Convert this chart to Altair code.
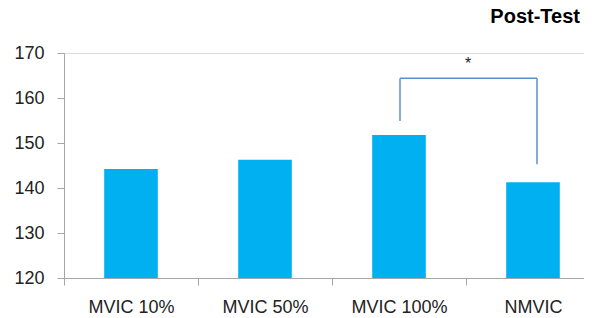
import altair as alt
import pandas as pd

categories = ["MVIC 10%", "MVIC 50%", "MVIC 100%", "NMVIC"]
values = [144.2, 146.3, 151.8, 141.3]

# significance bracket (between MVIC 100% and NMVIC)
bracket_left_cat = "MVIC 100%"
bracket_right_cat = "NMVIC"
bracket_top = 164.4
bracket_left_bottom = 154.9
bracket_right_bottom = 145.3
star_y = 167.6
star_text = "*"
title_text = "Post-Test"

FONT = "Liberation Sans"
BAR_COLOR = "#00B0F0"
BRACKET_COLOR = "#5B8FD0"
AXIS_COLOR = "#A6A6A6"
TEXT_COLOR = "#222222"

bars_df = pd.DataFrame({"cat": categories, "val": values})
left_df = pd.DataFrame({"cat": [bracket_left_cat], "y": [bracket_left_bottom], "y2": [bracket_top]})
right_df = pd.DataFrame({"cat": [bracket_right_cat], "y": [bracket_right_bottom], "y2": [bracket_top]})
horiz_df = pd.DataFrame({"cat": [bracket_left_cat], "cat2": [bracket_right_cat], "y": [bracket_top]})
star_df = pd.DataFrame({"cat": [bracket_left_cat], "y": [star_y], "t": [star_text]})

# the x axis continues slightly past the right edge of the picture, as in the reference
xscale = alt.Scale(domain=categories, range=[0, 536], paddingInner=0, paddingOuter=0)
yscale = alt.Scale(domain=[120, 170], nice=False, zero=False)

xaxis = alt.Axis(
    title=None, labelAngle=0, labelFont=FONT, labelFontSize=18, labelColor=TEXT_COLOR,
    domainColor=AXIS_COLOR, tickColor=AXIS_COLOR, tickSize=7, tickBand="extent",
    labelPadding=13, grid=False,
)
yaxis = alt.Axis(
    title=None, values=[120, 130, 140, 150, 160, 170], labelFont=FONT, labelFontSize=18,
    labelColor=TEXT_COLOR, domainColor=AXIS_COLOR, tickColor=AXIS_COLOR, tickSize=7,
    labelPadding=13, grid=False,
)

X = alt.X("cat:N", sort=categories, scale=xscale, axis=xaxis)

bars = alt.Chart(bars_df).mark_bar(color=BAR_COLOR, width=alt.RelativeBandSize(0.4), clip=True).encode(
    x=X,
    y=alt.Y("val:Q", scale=yscale, axis=yaxis),
)

left = alt.Chart(left_df).mark_rule(color=BRACKET_COLOR, strokeWidth=1.5, xOffset=1).encode(
    x=X, y=alt.Y("y:Q", scale=yscale), y2="y2:Q",
)
right = alt.Chart(right_df).mark_rule(color=BRACKET_COLOR, strokeWidth=1.5, xOffset=4).encode(
    x=X, y=alt.Y("y:Q", scale=yscale), y2="y2:Q",
)
horiz = alt.Chart(horiz_df).mark_rule(color=BRACKET_COLOR, strokeWidth=1.5, xOffset=1, x2Offset=4).encode(
    x=X, x2="cat2:N", y=alt.Y("y:Q", scale=yscale),
)

star = alt.Chart(star_df).mark_text(
    font=FONT, fontSize=16, color=TEXT_COLOR, dx=69, baseline="middle"
).encode(
    x=X,
    y=alt.Y("y:Q", scale=yscale),
    text="t:N",
)

chart = alt.layer(bars, left, right, horiz, star).properties(
    width=520, height=225,
    autosize=alt.AutoSizeParams(type="none"),
    padding={"left": 56, "top": 45, "right": 0, "bottom": 40},
    title=alt.TitleParams(
        title_text, anchor="end", frame="group", font=FONT, fontSize=20, fontWeight="bold",
        color="#000000", offset=17, dx=-4,
    ),
).configure_view(stroke=None).configure(background="white")

chart.save("out.html", embed_options={"renderer": "svg", "actions": False})
